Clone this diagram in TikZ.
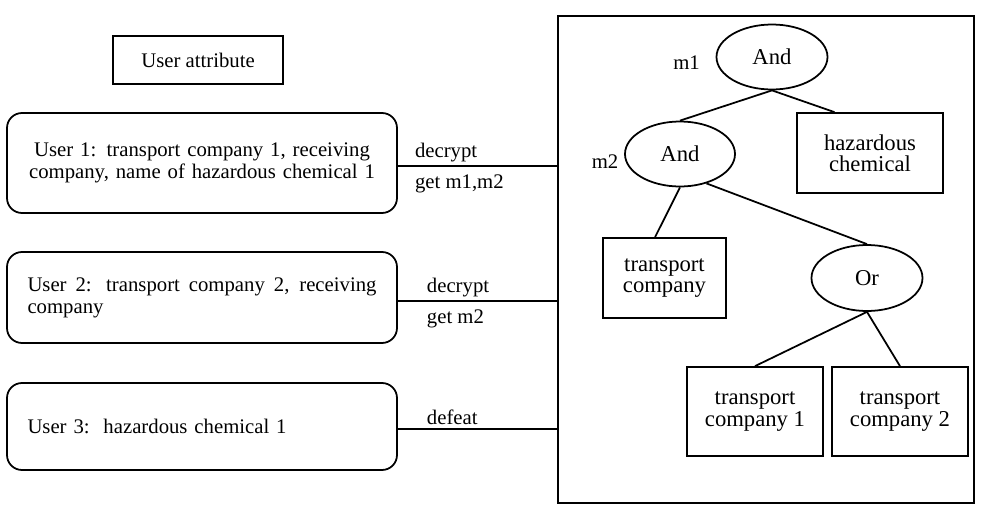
\documentclass[tikz,border=0pt]{standalone}
\usepackage{fontspec}
\setmainfont{Liberation Serif}
\usepackage{tikz}
\usetikzlibrary{positioning,calc,shapes.geometric}

\begin{document}
\begin{tikzpicture}[line width=1pt,
                font=\fontsize{11.8}{12.6}\selectfont,
                tree font/.style={font=\fontsize{12.9}{12.2}\selectfont},
                box node/.style={rectangle,draw,align=center,inner sep=2pt},
                user node/.style={rectangle,draw,rounded corners=0.3cm,minimum width=7.8cm,text width=6.98cm,inner sep=0pt},
                gate node/.style={ellipse,draw,inner sep=0pt,minimum width=2.22cm,minimum height=1.3cm,tree font},
                up label/.style={above right,inner sep=2pt},
                down label/.style={below right,inner xsep=2pt,inner ysep=4.5pt}]
\useasboundingbox (0,0) rectangle (19.76,-10.24);
%Nodes
    \node[draw,rectangle,minimum width=8.32cm,minimum height=9.74cm] (frame) at (15.32,-5.19) {};
    \node[box node,minimum width=3.4cm,minimum height=0.96cm] (attr) at (3.96,-1.2) {User attribute};
    \node[user node,minimum height=2.0cm,align=center] (U1) at (4.04,-3.26) {User 1: transport company 1, receiving company, name of hazardous chemical 1};
    \node[user node,minimum height=1.82cm,align=justify] (U2) at (4.04,-5.95) {User 2: transport company 2, receiving company};
    \node[user node,minimum height=1.74cm,align=left] (U3) at (4.04,-8.53) {User 3:\ \ hazardous chemical 1};
    \node[gate node] (M1) at (15.44,-1.14) {And};
    \node[gate node,minimum width=2.2cm] (M2) at (13.6,-3.08) {And};
    \node[gate node,minimum height=1.32cm] (Or) at (17.34,-5.56) {Or};
    \node[box node,tree font,minimum width=2.92cm,minimum height=1.6cm] (HC) at (17.4,-3.06) {hazardous\\chemical};
    \node[box node,tree font,minimum width=2.46cm,minimum height=1.6cm] (TC) at (13.29,-5.56) {transport\\company};
    \node[box node,tree font,minimum width=2.72cm,minimum height=1.78cm] (TC1) at (15.1,-8.23) {transport\\company 1};
    \node[box node,tree font,minimum width=2.72cm,minimum height=1.78cm] (TC2) at (18.0,-8.23) {transport\\company 2};
    \node (m1) at (13.73,-1.26) {m1};
    \node (m2) at (12.1,-3.24) {m2};
%Lines
    \coordinate (c1) at ([yshift=-0.06cm]U1.east);
    \coordinate (c2) at ([yshift=-0.07cm]U2.east);
    \coordinate (c3) at ([yshift=-0.05cm]U3.east);
    \draw (c1) -- (c1 -| frame.west) node[up label,pos=0.08] {decrypt} node[down label,pos=0.08] {get m1,m2};
    \draw (c2) -- (c2 -| frame.west) node[up label,pos=0.155] {decrypt} node[down label,pos=0.155] {get m2};
    \draw (c3) -- (c3 -| frame.west) node[up label,pos=0.155] {defeat};
    \draw (M1.south) -- (M2.north);
    \draw (M1.south) -- (HC.131);
    \draw (M2.south) -- (TC.103);
    \draw (M2.-48) -- (Or.north);
    \draw (Or.south) -- (TC1.north);
    \draw (Or.south) -- (TC2.north);
\end{tikzpicture}
\end{document}
